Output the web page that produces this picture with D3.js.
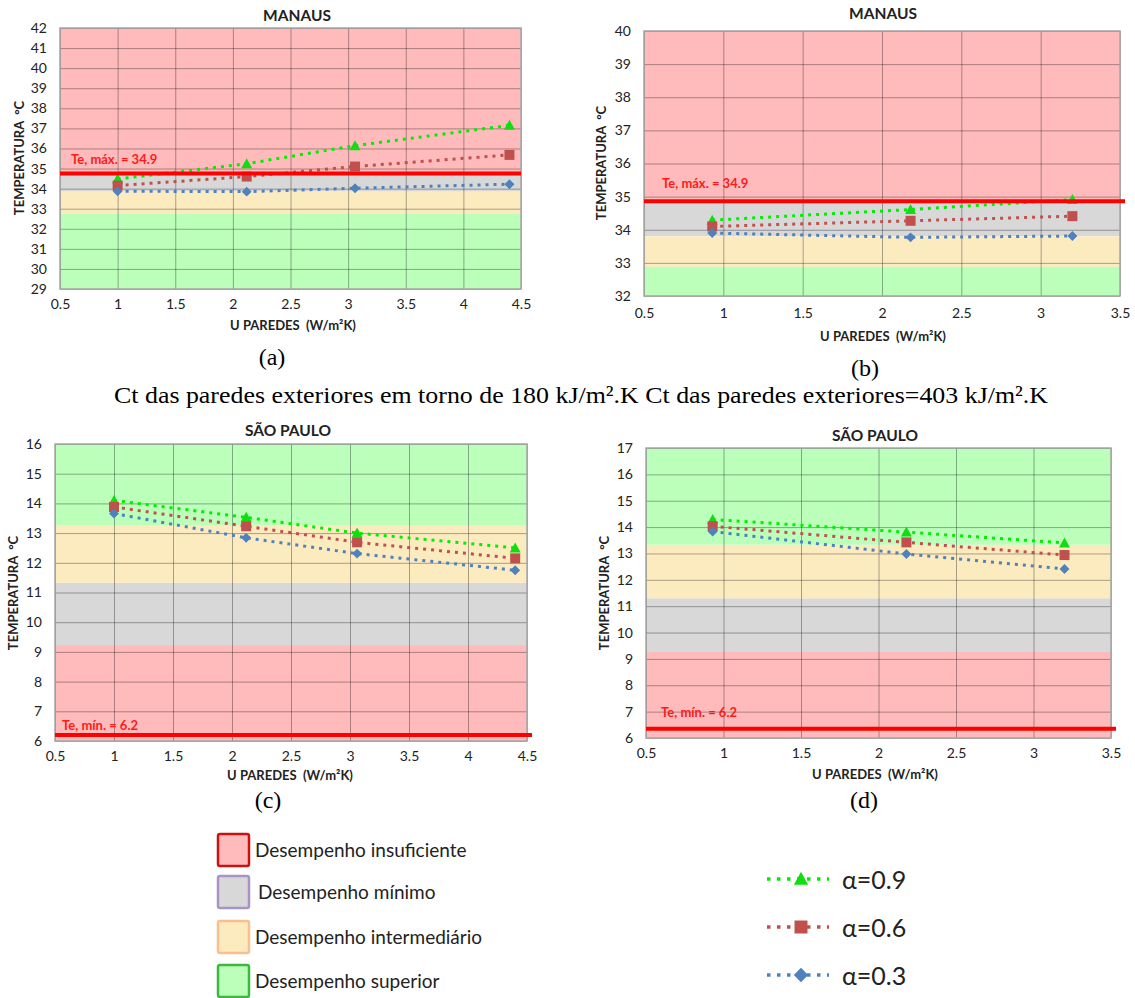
<!DOCTYPE html>
<html>
<head>
<meta charset="utf-8">
<script src="https://cdn.jsdelivr.net/npm/d3@7"></script>
<style>
  body { margin: 0; background: #fff; }
</style>
</head>
<body>
<div id="chart"></div>
<script>
// U values of the walls (x positions of the points)
var uWallsA = [1.0, 2.12, 3.06, 4.4]
var uWallsB = [0.93, 2.18, 3.2]

// Manaus, Ct ~180 kJ/m2.K
var manausA09 = [34.48, 35.24, 36.14, 37.15]
var manausA06 = [34.15, 34.6, 35.1, 35.68]
var manausA03 = [33.87, 33.85, 34.02, 34.22]
// Manaus, Ct = 403 kJ/m2.K
var manausB09 = [34.29, 34.61, 34.91]
var manausB06 = [34.1, 34.27, 34.41]
var manausB03 = [33.9, 33.77, 33.81]
// Sao Paulo, Ct ~180
var saoPauloC09 = [14.1, 13.53, 13.0, 12.5]
var saoPauloC06 = [13.88, 13.23, 12.69, 12.15]
var saoPauloC03 = [13.66, 12.84, 12.31, 11.75]
// Sao Paulo, Ct = 403
var saoPauloD09 = [14.29, 13.81, 13.4]
var saoPauloD06 = [14.03, 13.42, 12.94]
var saoPauloD03 = [13.83, 12.98, 12.41]

// performance bands [low, high]: insuficiente, minimo, intermediario, superior
var bandsA = [[34.75, 42], [33.85, 34.75], [32.77, 33.85], [29, 32.77]]
var bandsB = [[34.86, 40], [33.8, 34.86], [32.88, 33.8], [32, 32.88]]
var bandsC = [[6, 9.23], [9.23, 11.33], [11.33, 13.25], [13.25, 16]]
var bandsD = [[6, 9.29], [9.29, 11.3], [11.3, 13.33], [13.33, 17]]

// limit lines
var limitA = 34.75
var limitB = 34.86
var limitC = 6.2
var limitD = 6.35

var xTicksA = [0.5, 1, 1.5, 2, 2.5, 3, 3.5, 4, 4.5]
var xTicksB = [0.5, 1, 1.5, 2, 2.5, 3, 3.5]
var yTicksA = d3.range(29, 43)
var yTicksB = d3.range(32, 41)
var yTicksC = d3.range(6, 17)
var yTicksD = d3.range(6, 18)

var bandNames = ['Desempenho insuficiente', 'Desempenho mínimo', 'Desempenho intermediário', 'Desempenho superior']
var seriesNames = ['α=0.9', 'α=0.6', 'α=0.3']

var bandColors = ['#ffbbbb', '#d8d8d8', '#fdebc0', '#bbffbb']
var bandStrokes = ['#cc1111', '#a894c4', '#f9bf8c', '#3cb83c']
var seriesColors = ['#11dd11', '#c0504d', '#4f81bd']
var lineColors = ['#00ee00', '#c0504d', '#4f81bd']

var svg = d3
  .select('#chart')
  .append('svg')
  .attr('width', 1135)
  .attr('height', 998)
  .style('font-family', 'Lato, sans-serif')

function markerPath(i, s) {
  if (i === 0) {
    // triangle
    return 'M0,' + (-s * 0.55) + 'L' + (s * 0.55) + ',' + (s * 0.45) + 'L' + (-s * 0.55) + ',' + (s * 0.45) + 'Z'
  }
  if (i === 1) {
    var h = s / 2
    return 'M' + -h + ',' + -h + 'H' + h + 'V' + h + 'H' + -h + 'Z'
  }
  var r = s * 0.55
  return 'M0,' + -r + 'L' + r + ',0L0,' + r + 'L' + -r + ',0Z'
}

function drawPanel(p) {
  var x = d3.scaleLinear().domain(p.xDomain).range([p.left, p.right])
  var y = d3.scaleLinear().domain(p.yDomain).range([p.bottom, p.top])
  var g = svg.append('g')

  g.selectAll('.band')
    .data(p.bands)
    .enter()
    .append('rect')
    .attr('class', 'band')
    .attr('x', p.left)
    .attr('width', p.right - p.left)
    .attr('y', d => y(d[1]))
    .attr('height', d => y(d[0]) - y(d[1]))
    .attr('fill', (d, i) => bandColors[i])

  // grid lines
  g.append('g')
    .attr('transform', 'translate(0,' + p.bottom + ')')
    .call(d3.axisBottom(x).tickValues(p.xTicks).tickSize(-(p.bottom - p.top)).tickFormat(''))
    .call(a => a.select('.domain').remove())
    .selectAll('line')
    .attr('stroke', '#000')
    .attr('stroke-opacity', 0.33)

  g.append('g')
    .attr('transform', 'translate(' + p.left + ',0)')
    .call(d3.axisLeft(y).tickValues(p.yTicks).tickSize(-(p.right - p.left)).tickFormat(''))
    .call(a => a.select('.domain').remove())
    .selectAll('line')
    .attr('stroke', '#000')
    .attr('stroke-opacity', 0.33)

  g.append('rect')
    .attr('x', p.left)
    .attr('y', p.top)
    .attr('width', p.right - p.left)
    .attr('height', p.bottom - p.top)
    .attr('fill', 'none')
    .attr('stroke', '#a6a6a6')
    .attr('stroke-width', 1.5)

  // tick labels
  var xAxis = g.append('g')
    .attr('transform', 'translate(0,' + p.bottom + ')')
    .call(d3.axisBottom(x).tickValues(p.xTicks).tickSize(0).tickPadding(p.xPad).tickFormat(d => String(d)))
  xAxis.select('.domain').remove()
  xAxis.selectAll('text').attr('font-size', 14).attr('fill', '#222').attr('font-family', 'Lato, sans-serif')

  var yAxis = g.append('g')
    .attr('transform', 'translate(' + p.left + ',0)')
    .call(d3.axisLeft(y).tickValues(p.yTicks).tickSize(0).tickPadding(13).tickFormat(d => String(d)))
  yAxis.select('.domain').remove()
  yAxis.selectAll('text').attr('font-size', 14).attr('fill', '#222').attr('font-family', 'Lato, sans-serif')

  // series
  var line = d3.line()
    .x(d => x(d[0]))
    .y(d => y(d[1]))

  p.series.forEach(function(vals, i) {
    var pts = p.u.map((u, k) => [u, vals[k]])
    g.append('path')
      .datum(pts)
      .attr('d', line)
      .attr('fill', 'none')
      .attr('stroke', lineColors[i])
      .attr('stroke-width', 3)
      .attr('stroke-dasharray', '3,5')

    g.selectAll('.m' + i)
      .data(pts)
      .enter()
      .append('path')
      .attr('class', 'm' + i)
      .attr('transform', d => 'translate(' + x(d[0]) + ',' + y(d[1]) + ')')
      .attr('d', markerPath(i, i === 2 ? 9 : 10))
      .attr('fill', seriesColors[i])
  })

  // limit line
  g.append('line')
    .attr('x1', p.left)
    .attr('x2', p.right + p.limitExtra)
    .attr('y1', y(p.limit))
    .attr('y2', y(p.limit))
    .attr('stroke', '#ff0000')
    .attr('stroke-width', 4)

  g.append('text')
    .attr('x', p.labelX)
    .attr('y', p.labelY)
    .attr('dominant-baseline', 'central')
    .attr('font-size', 13)
    .attr('font-weight', 700)
    .attr('fill', '#ff1a1a')
    .text(p.limitLabel)

  g.append('text')
    .attr('x', p.titleX)
    .attr('y', p.titleY)
    .attr('text-anchor', 'middle')
    .attr('dominant-baseline', 'central')
    .attr('font-size', 15.5)
    .attr('font-weight', 700)
    .attr('fill', '#222')
    .text(p.title)

  g.append('text')
    .attr('transform', 'translate(' + p.yTitleX + ',' + p.yTitleY + ') rotate(-90)')
    .attr('text-anchor', 'middle')
    .attr('dominant-baseline', 'central')
    .attr('font-size', 13)
    .attr('font-weight', 700)
    .attr('fill', '#222')
    .style('white-space', 'pre')
    .text('TEMPERATURA  °C')

  g.append('text')
    .attr('x', p.xTitleX)
    .attr('y', p.xTitleY)
    .attr('text-anchor', 'middle')
    .attr('dominant-baseline', 'central')
    .attr('font-size', 13)
    .attr('font-weight', 700)
    .attr('fill', '#222')
    .style('white-space', 'pre')
    .text('U PAREDES  (W/m²K)')

  svg.append('text')
    .attr('x', p.capX)
    .attr('y', p.capY)
    .attr('text-anchor', 'middle')
    .attr('dominant-baseline', 'central')
    .attr('font-family', '"Liberation Serif", serif')
    .attr('font-size', 24)
    .text(p.caption)
}

var panels = [
  { left: 60, right: 521, top: 28, bottom: 289, xDomain: [0.5, 4.5], yDomain: [29, 42],
    xTicks: xTicksA, yTicks: yTicksA, bands: bandsA, u: uWallsA,
    series: [manausA09, manausA06, manausA03], limit: limitA, limitExtra: 0,
    limitLabel: 'Te, máx. = 34.9', labelX: 71, labelY: 159,
    title: 'MANAUS', titleX: 297, titleY: 15, yTitleX: 19, yTitleY: 158,
    xTitleX: 293, xTitleY: 325, xPad: 10, caption: '(a)', capX: 272, capY: 357 },
  { left: 644, right: 1120, top: 31, bottom: 296, xDomain: [0.5, 3.5], yDomain: [32, 40],
    xTicks: xTicksB, yTicks: yTicksB, bands: bandsB, u: uWallsB,
    series: [manausB09, manausB06, manausB03], limit: limitB, limitExtra: 5,
    limitLabel: 'Te, máx. = 34.9', labelX: 662, labelY: 183,
    title: 'MANAUS', titleX: 883, titleY: 13, yTitleX: 601, yTitleY: 163,
    xTitleX: 883, xTitleY: 336, xPad: 12, caption: '(b)', capX: 865, capY: 368 },
  { left: 55, right: 527, top: 444, bottom: 741, xDomain: [0.5, 4.5], yDomain: [6, 16],
    xTicks: xTicksA, yTicks: yTicksC, bands: bandsC, u: uWallsA,
    series: [saoPauloC09, saoPauloC06, saoPauloC03], limit: limitC, limitExtra: 5,
    limitLabel: 'Te, mín. = 6.2', labelX: 62, labelY: 725,
    title: 'SÃO PAULO', titleX: 288, titleY: 430, yTitleX: 13, yTitleY: 593,
    xTitleX: 290, xTitleY: 775, xPad: 10, caption: '(c)', capX: 268, capY: 800 },
  { left: 646, right: 1111, top: 448, bottom: 738, xDomain: [0.5, 3.5], yDomain: [6, 17],
    xTicks: xTicksB, yTicks: yTicksD, bands: bandsD, u: uWallsB,
    series: [saoPauloD09, saoPauloD06, saoPauloD03], limit: limitD, limitExtra: 5,
    limitLabel: 'Te, mín. = 6.2', labelX: 661, labelY: 712,
    title: 'SÃO PAULO', titleX: 875, titleY: 435, yTitleX: 604, yTitleY: 593,
    xTitleX: 875, xTitleY: 774, xPad: 10, caption: '(d)', capX: 864, capY: 800 }
]

panels.forEach(drawPanel)

svg.append('text')
  .attr('x', 581)
  .attr('y', 395)
  .attr('text-anchor', 'middle')
  .attr('dominant-baseline', 'central')
  .attr('font-family', '"Liberation Serif", serif')
  .attr('font-size', 24)
  .attr('textLength', 934)
  .attr('lengthAdjust', 'spacingAndGlyphs')
  .text('Ct das paredes exteriores em torno de 180 kJ/m².K Ct das paredes exteriores=403 kJ/m².K')

// legend of bands
var bandRowY = [850, 892, 937, 981]
var bandLegend = svg.append('g')
bandLegend.selectAll('rect')
  .data(bandNames)
  .enter()
  .append('rect')
  .attr('x', 218)
  .attr('y', (d, i) => bandRowY[i] - 16)
  .attr('width', 31)
  .attr('height', 32)
  .attr('rx', 2)
  .attr('fill', (d, i) => bandColors[i])
  .attr('stroke', (d, i) => bandStrokes[i])
  .attr('stroke-width', 2.5)

bandLegend.selectAll('text')
  .data(bandNames)
  .enter()
  .append('text')
  .attr('x', (d, i) => i === 1 ? 258 : 255)
  .attr('y', (d, i) => bandRowY[i] - 1)
  .attr('dominant-baseline', 'central')
  .attr('font-size', 19)
  .attr('fill', '#222')
  .text(d => d)

// legend of series
var seriesRowY = [879, 927, 975]
seriesNames.forEach(function(name, i) {
  var lg = svg.append('g')
  lg.append('line')
    .attr('x1', 767)
    .attr('x2', 829)
    .attr('y1', seriesRowY[i])
    .attr('y2', seriesRowY[i])
    .attr('stroke', lineColors[i])
    .attr('stroke-width', 3.5)
    .attr('stroke-dasharray', '3.5,6.5')
  lg.append('path')
    .attr('transform', 'translate(801,' + seriesRowY[i] + ')')
    .attr('d', markerPath(i, 13))
    .attr('fill', seriesColors[i])
  lg.append('text')
    .attr('x', 842)
    .attr('y', seriesRowY[i])
    .attr('dominant-baseline', 'central')
    .attr('font-size', 25)
    .attr('fill', '#222')
    .text(name)
})
</script>
</body>
</html>
